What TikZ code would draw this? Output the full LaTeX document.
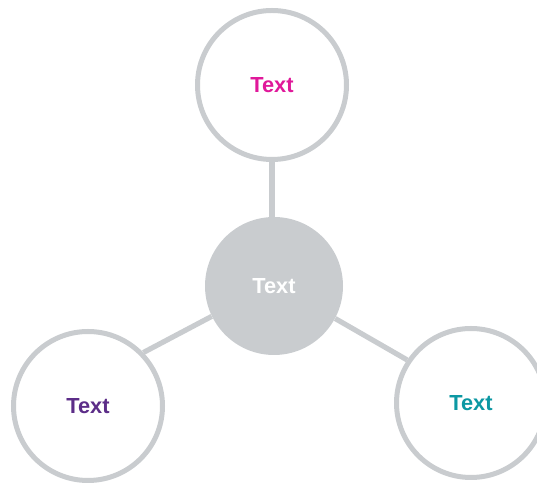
\documentclass[tikz,border=0pt]{standalone}
\usepackage{xcolor}
\usepackage{fontspec}
\setmainfont{Liberation Sans}
\usetikzlibrary{shapes,calc,positioning}

\definecolor{ringgray}{HTML}{C9CCCF}
\definecolor{textpink}{HTML}{E0189A}
\definecolor{textpurple}{HTML}{5C2D88}
\definecolor{textteal}{HTML}{0C98A3}

\tikzset{
	hub/.style={circle, fill=ringgray, minimum size=3.45cm, inner sep=0pt,
		text=white, font=\fontsize{15.5}{18}\selectfont\bfseries},
	ring/.style={circle, draw=ringgray, line width=0.125cm, fill=white,
		minimum size=3.725cm, inner sep=0pt, font=\fontsize{15.5}{18}\selectfont\bfseries},
	spoke/.style={draw=ringgray, line width=0.13cm}
}

\begin{document}
\begin{tikzpicture}
	\useasboundingbox (0,0) rectangle (13.425,12.075);
	
	% Center circle and the three outer rings
	\node[hub] (hub) at (6.85,4.925) {Text};
	\node[ring, text=textpink] (top) at (6.8,9.95) {Text};
	\node[ring, text=textpurple] (left) at (2.2,1.925) {Text};
	\node[ring, text=textteal] (right) at (11.775,2.0) {Text};
	
	% Spokes from the center to each ring
	\draw[spoke] (top.south) -- (top.south |- hub.north);
	\draw[spoke] (hub.206) -- (left.44);
	\draw[spoke] (hub.332) -- (right.146);
\end{tikzpicture}
\end{document}
